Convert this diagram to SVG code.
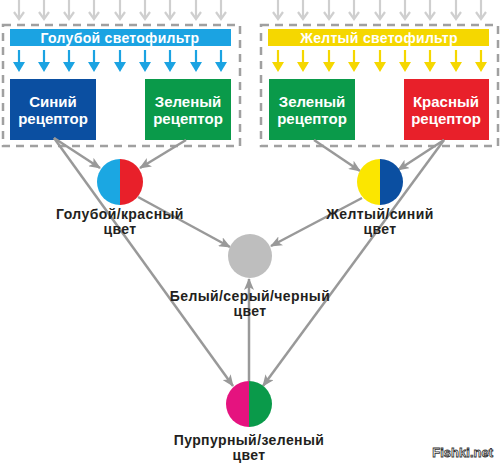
<svg xmlns="http://www.w3.org/2000/svg" xmlns:xlink="http://www.w3.org/1999/xlink" width="500" height="464" viewBox="0 0 500 464">
<style>
.dash{fill:none;stroke:#a0a0a0;stroke-width:2.5;stroke-dasharray:8 6}
.bar{font-family:"Liberation Sans",Arial,sans-serif;font-weight:bold;font-size:14px;letter-spacing:0.3px;fill:#fff;text-anchor:middle}
.rec{font-family:"Liberation Sans",Arial,sans-serif;font-weight:bold;font-size:15px;fill:#fff;text-anchor:middle}
.lbl{font-family:"Liberation Sans",Arial,sans-serif;font-weight:bold;font-size:14px;letter-spacing:0.4px;fill:#231f20;text-anchor:middle}
.con{fill:none;stroke:#999;stroke-width:2.5;marker-end:url(#ah)}
</style>
<defs>
<marker id="ah" viewBox="0 0 12 10" refX="11" refY="5" markerWidth="12" markerHeight="10" markerUnits="userSpaceOnUse" orient="auto">
<path d="M0,0 L12,5 L0,10 L3,5 z" fill="#999"/>
</marker>
<g id="garr"><path d="M0,0 V18" stroke="#cfcfcf" stroke-width="2.2" fill="none"/><path d="M-5,12 L0,19 L5,12" stroke="#cfcfcf" stroke-width="2.2" fill="none"/></g>
<g id="barr"><path d="M0,50 V64" stroke="#1ba3e2" stroke-width="2.2"/><path d="M-6,62 L6,62 L0,72 z" fill="#1ba3e2"/></g>
<g id="yarr"><path d="M0,50 V64" stroke="#f5d700" stroke-width="2.2"/><path d="M-6,62 L6,62 L0,72 z" fill="#f5d700"/></g>
</defs>
<rect width="500" height="464" fill="#fff"/>

<g id="incoming-left">
<use xlink:href="#garr" x="19"/><use xlink:href="#garr" x="44"/><use xlink:href="#garr" x="69"/><use xlink:href="#garr" x="94"/><use xlink:href="#garr" x="120"/><use xlink:href="#garr" x="145"/><use xlink:href="#garr" x="170"/><use xlink:href="#garr" x="196"/><use xlink:href="#garr" x="221"/>
</g>
<g id="incoming-right">
<use xlink:href="#garr" x="278"/><use xlink:href="#garr" x="303"/><use xlink:href="#garr" x="329"/><use xlink:href="#garr" x="354"/><use xlink:href="#garr" x="380"/><use xlink:href="#garr" x="405"/><use xlink:href="#garr" x="430"/><use xlink:href="#garr" x="456"/><use xlink:href="#garr" x="481"/>
</g>

<g id="cyan-filter">
<rect class="dash" x="3" y="25" width="237" height="121"/>
<rect x="10" y="29" width="221" height="17" fill="#1ba3e2"/>
<text class="bar" x="120" y="43">Голубой светофильтр</text>
<use xlink:href="#barr" x="19"/><use xlink:href="#barr" x="44"/><use xlink:href="#barr" x="69"/><use xlink:href="#barr" x="94"/><use xlink:href="#barr" x="120"/><use xlink:href="#barr" x="145"/><use xlink:href="#barr" x="170"/><use xlink:href="#barr" x="196"/><use xlink:href="#barr" x="221"/>
</g>
<g id="blue-receptor">
<rect x="10" y="79" width="86" height="61" fill="#0b4fa1"/>
<text class="rec" x="53" y="107">Синий</text>
<text class="rec" x="53" y="124">рецептор</text>
</g>
<g id="green-receptor-left">
<rect x="145" y="79" width="86" height="61" fill="#0a9a4a"/>
<text class="rec" x="188" y="107">Зеленый</text>
<text class="rec" x="188" y="124">рецептор</text>
</g>

<g id="yellow-filter">
<rect class="dash" x="261" y="25" width="237" height="121"/>
<rect x="268" y="29" width="221" height="17" fill="#f5d700"/>
<text class="bar" x="379" y="43">Желтый светофильтр</text>
<use xlink:href="#yarr" x="278"/><use xlink:href="#yarr" x="303"/><use xlink:href="#yarr" x="329"/><use xlink:href="#yarr" x="354"/><use xlink:href="#yarr" x="380"/><use xlink:href="#yarr" x="405"/><use xlink:href="#yarr" x="430"/><use xlink:href="#yarr" x="456"/><use xlink:href="#yarr" x="481"/>
</g>
<g id="green-receptor-right">
<rect x="269" y="79" width="86" height="61" fill="#0a9a4a"/>
<text class="rec" x="312" y="107">Зеленый</text>
<text class="rec" x="312" y="124">рецептор</text>
</g>
<g id="red-receptor">
<rect x="404" y="79" width="85" height="61" fill="#e8202a"/>
<text class="rec" x="446" y="107">Красный</text>
<text class="rec" x="446" y="124">рецептор</text>
</g>

<g id="connectors">
<path class="con" d="M54,138 L100,168"/>
<path class="con" d="M186,140 L140,168"/>
<path class="con" d="M54,138 L233,386"/>
<path class="con" d="M138,197 L230,247"/>
<path class="con" d="M314,140 L360,171"/>
<path class="con" d="M444,140 L398,170"/>
<path class="con" d="M444,140 L263,386"/>
<path class="con" d="M362,198 L271,246"/>
<path class="con" d="M249,381 L249,279"/>
</g>

<g id="cyan-red">
<path d="M120,159 A23,23 0 0 0 120,205 z" fill="#1ba7e2"/>
<path d="M120,159 A23,23 0 0 1 120,205 z" fill="#e8202a"/>
<text class="lbl" x="120" y="219">Голубой/красный</text>
<text class="lbl" x="120" y="234">цвет</text>
</g>
<g id="yellow-blue">
<path d="M380,159 A23,23 0 0 0 380,205 z" fill="#fbe600"/>
<path d="M380,159 A23,23 0 0 1 380,205 z" fill="#0b4fa1"/>
<text class="lbl" x="380" y="219">Желтый/синий</text>
<text class="lbl" x="380" y="234">цвет</text>
</g>
<g id="gray">
<circle cx="250" cy="256" r="22" fill="#bebebe"/>
<text class="lbl" x="250" y="301">Белый/серый/черный</text>
<text class="lbl" x="250" y="316">цвет</text>
</g>
<g id="magenta-green">
<path d="M249,381 A23,23 0 0 0 249,427 z" fill="#e5137f"/>
<path d="M249,381 A23,23 0 0 1 249,427 z" fill="#0a9a4a"/>
<text class="lbl" x="249" y="445">Пурпурный/зеленый</text>
<text class="lbl" x="249" y="460">цвет</text>
</g>
<text x="493" y="457" text-anchor="end" font-family="'Liberation Sans',Arial,sans-serif" font-weight="bold" font-size="13" fill="#fff" stroke="#333" stroke-width="0.8">Fishki.net</text>
</svg>
